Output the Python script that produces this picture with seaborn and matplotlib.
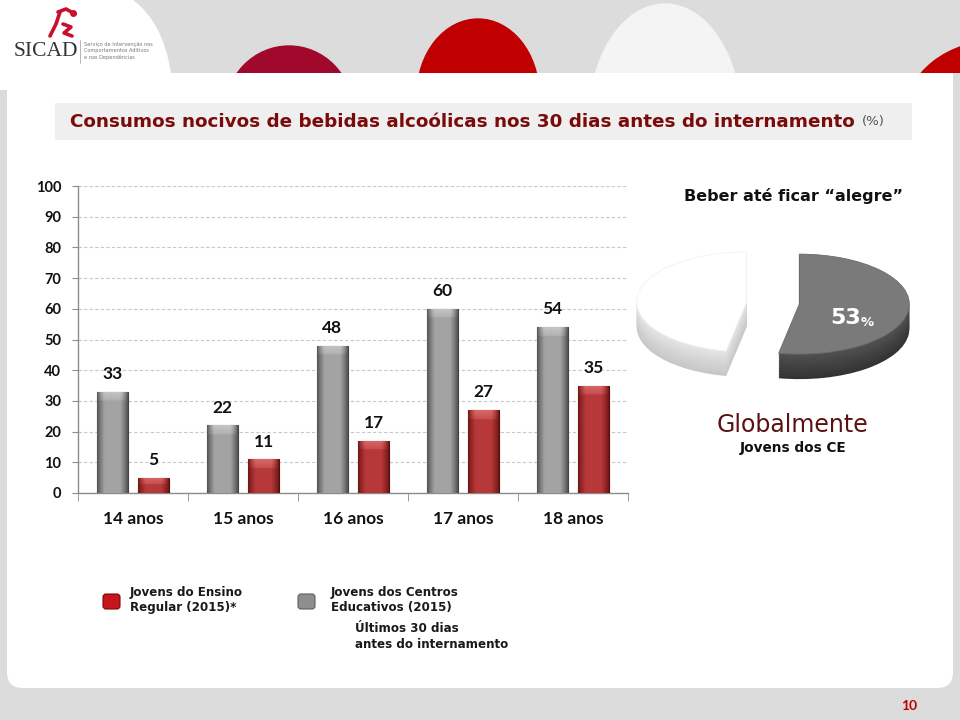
import numpy as np
import pandas as pd
import matplotlib
import matplotlib.pyplot as plt
import seaborn as sns
from matplotlib.patches import Rectangle, Ellipse, FancyBboxPatch, PathPatch
from matplotlib.path import Path
matplotlib.use("Agg")

# data
idades = ["14 anos", "15 anos", "16 anos", "17 anos", "18 anos"]
centros = [33, 22, 48, 60, 54]     # Jovens dos Centros Educativos (2015)
ensino = [5, 11, 17, 27, 35]       # Jovens do Ensino Regular (2015)*
yticks = list(range(0, 101, 10))
pie_vals = [53, 47]

lab_centros = "Jovens dos Centros Educativos (2015)"
lab_ensino = "Jovens do Ensino Regular (2015)*"

df = pd.DataFrame({
    "idade": idades * 2,
    "valor": centros + ensino,
    "grupo": [lab_centros] * 5 + [lab_ensino] * 5,
})

sns.set_style("white")
plt.rcParams['font.family'] = ['DejaVu Sans']

fig = plt.figure(figsize=(9.6, 7.2), dpi=100)
fig.patch.set_facecolor('#dcdcdc')

#####################################
# SLIDE BACKGROUND (pixel coordinates)
#####################################
bg = fig.add_axes([0, 0, 1, 1], zorder=0)
bg.set_xlim(0, 960)
bg.set_ylim(720, 0)
bg.axis('off')

# domes in the top band, clipped to the band
band = Rectangle((0, 0), 960, 73, transform=bg.transData)
for centre, w, h, c in [((289, 112), 128, 132, '#a0082c'),
                        ((478, 95), 122, 152, '#c00000'),
                        ((665, 120), 152, 232, '#f4f4f4'),
                        ((1000, 115), 190, 150, '#c00000')]:
    e = Ellipse(centre, w, h, color=c, zorder=1)
    bg.add_patch(e)
    e.set_clip_path(band)

# white logo area with curved edge
verts = [(0, 0), (133, 0), (163, 22), (171, 73), (171, 90), (0, 90),
         (0, 0)]
codes = [Path.MOVETO, Path.LINETO, Path.CURVE3, Path.CURVE3,
         Path.LINETO, Path.LINETO, Path.CLOSEPOLY]
bg.add_patch(PathPatch(Path(verts, codes), facecolor='white',
                       edgecolor='none', zorder=2))

# white content panel
bg.add_patch(FancyBboxPatch((7, 73), 946, 615,
                            boxstyle="round,pad=0,rounding_size=16",
                            facecolor='white', edgecolor='none', zorder=2))
bg.add_patch(Rectangle((7, 73), 946, 100, facecolor='white',
                       edgecolor='none', zorder=2))

# title band
bg.add_patch(Rectangle((55, 103), 857, 37, facecolor='#efefef',
                       edgecolor='none', zorder=3))
title = bg.text(70, 122, "Consumos nocivos de bebidas alcoólicas nos 30 dias "
                "antes do internamento", ha='left', va='center',
                color='#7b0a0a', fontsize=13.2, fontweight='bold', zorder=4)
bg.annotate("(%)", xy=(1, 0.5), xycoords=title, xytext=(5, 0),
            textcoords='offset points', ha='left', va='center',
            color='#555555', fontsize=9.5, zorder=4)

# logo
for xs, ys in [([50, 56, 60], [36, 24, 12]),
               ([58, 66, 75], [12, 9, 14]),
               ([63, 71, 64, 72], [24, 27, 33, 36])]:
    bg.plot(xs, ys, color='#c8102e', lw=2.6, solid_capstyle='round',
            zorder=4)
bg.plot([73], [13], 'o', color='#c8102e', ms=4, zorder=4)
bg.text(14, 51, "SICAD", family='Liberation Serif', fontsize=15.5,
        color='#333333', ha='left', va='center', zorder=4)
bg.plot([80, 80], [40, 63], color='#aaaaaa', lw=0.6, zorder=4)
bg.text(84, 51, "Serviço de Intervenção nos\nComportamentos Aditivos\n"
        "e nas Dependências", fontsize=3.6, color='#777777',
        ha='left', va='center', linespacing=1.2, zorder=4)

# page number
bg.text(909, 706, "10", color='#c00000', fontsize=10, fontweight='bold',
        ha='center', va='center', family='Lato', zorder=4)

# legend
bg.add_patch(FancyBboxPatch((103, 594), 17, 15,
                            boxstyle="round,pad=0,rounding_size=3",
                            facecolor='#c8141c', edgecolor='#7a0a0a',
                            lw=0.8, zorder=4))
bg.add_patch(FancyBboxPatch((298, 594), 17, 15,
                            boxstyle="round,pad=0,rounding_size=3",
                            facecolor='#8e8e8e', edgecolor='#5e5e5e',
                            lw=0.8, zorder=4))
leg_kw = dict(fontsize=8.6, fontweight='bold', color='#1a1a1a', ha='left',
              va='top', linespacing=1.25, zorder=4)
bg.text(130, 586, "Jovens do Ensino\nRegular (2015)*", **leg_kw)
bg.text(331, 586, "Jovens dos Centros\nEducativos (2015)", **leg_kw)
bg.text(355, 622, "Últimos 30 dias\nantes do internamento", **leg_kw)

# pie captions
bg.text(793, 196, "Beber até ficar “alegre”", ha='center', va='center',
        fontsize=11.5, fontweight='bold', color='#111111', zorder=4)
bg.text(793, 425, "Globalmente", ha='center', va='center', fontsize=17,
        color='#5c1212', zorder=4)
bg.text(793, 448, "Jovens dos CE", ha='center', va='center', fontsize=9.8,
        fontweight='bold', color='#111111', zorder=4)

#####################################
# BAR CHART
#####################################
ax = fig.add_axes([78 / 960, 1 - 493 / 720, 550 / 960, 307 / 720], zorder=5)
ax.set_facecolor('none')

sns.barplot(data=df, x="idade", y="valor", hue="grupo",
            hue_order=[lab_centros, lab_ensino],
            palette={lab_centros: '#8a8a8a', lab_ensino: '#a83232'},
            width=0.75, gap=0.25, legend=False, ax=ax, zorder=3)

shades = [
    # dark edge, light centre, bevel highlight, outline
    (np.array([0.30, 0.30, 0.30]), np.array([0.64, 0.64, 0.64]),
     np.array([0.82, 0.82, 0.82]), '#444444'),
    (np.array([0.42, 0.07, 0.07]), np.array([0.72, 0.22, 0.22]),
     np.array([0.90, 0.48, 0.48]), '#560c0c'),
]

for cont, (dark, light, hi, edge) in zip(ax.containers, shades):
    for patch in cont.patches:
        x0 = patch.get_x()
        w = patch.get_width()
        h = patch.get_height()
        patch.set_edgecolor(edge)
        patch.set_linewidth(0.8)
        nx, ny = 48, 240
        t = (np.arange(nx) + 0.5) / nx
        prof = np.clip(np.minimum(t, 1 - t) / 0.25, 0, 1) ** 0.8
        col = dark + (light - dark) * prof[:, None]
        img = np.tile(col[None, :, :], (ny, 1, 1))
        bev = min(3.0 / h, 0.45)
        rows = (np.arange(ny) + 0.5) / ny
        for i, r in enumerate(rows):
            if r < bev:
                k = np.clip(np.minimum(t, 1 - t) / 0.25, 0, 1)
                wgt = 0.75 * k * (1 - r / bev * 0.6)
                img[i] = img[i] * (1 - wgt[:, None]) + hi * wgt[:, None]
        im = ax.imshow(img, extent=(x0, x0 + w, 0, h), aspect='auto',
                       interpolation='bilinear', zorder=3.5, origin='upper')
        im.set_clip_path(patch)
    ax.bar_label(cont, padding=7, fontsize=12.5, fontweight='bold',
                 family='Lato', color='#111111', zorder=6)

ax.set_xlim(-0.5, 4.5)
ax.set_ylim(0, 100)
ax.set_yticks(yticks)
ax.set_xlabel('')
ax.set_ylabel('')
ax.yaxis.grid(True, linestyle=(0, (3, 2)), color='#c8c8c8', lw=0.8)
ax.set_axisbelow(True)

for side in ['top', 'right']:
    ax.spines[side].set_visible(False)
for side in ['left', 'bottom']:
    ax.spines[side].set_color('#8c8c8c')
    ax.spines[side].set_linewidth(1.0)

ax.set_xticks(np.arange(-0.5, 5, 1.0), minor=True)
ax.tick_params(axis='x', which='major', length=0, pad=13)
ax.tick_params(axis='x', which='minor', length=6, color='#8c8c8c',
               direction='out', bottom=True)
ax.tick_params(axis='y', length=4, color='#8c8c8c', direction='out',
               left=True, pad=8)
for lab in ax.get_xticklabels():
    lab.set_family('Lato')
    lab.set_fontweight('bold')
    lab.set_fontsize(12.5)
    lab.set_color('#111111')
for lab in ax.get_yticklabels():
    lab.set_family('Lato')
    lab.set_fontweight('bold')
    lab.set_fontsize(10.5)
    lab.set_color('#111111')

#####################################
# 3D-LOOKING PIE
#####################################
pax = fig.add_axes([597 / 960, 1 - 393 / 720, 352 / 960, 160 / 720],
                   zorder=6)
pax.set_facecolor('none')
depth = 0.5
explode = [0.24, 0.24]
layers = np.linspace(depth, 0.0, 16, endpoint=False)
for j, d in enumerate(layers):
    f = j / len(layers)
    side_g = (0.20 + 0.12 * f,) * 3
    side_w = (0.78 + 0.12 * f,) * 3
    pax.pie(pie_vals, colors=[side_g, side_w], startangle=90,
            counterclock=False, explode=explode, center=(0, -d),
            wedgeprops=dict(linewidth=0))
wedges, _ = pax.pie(pie_vals, colors=['#7a7a7a', '#ffffff'], startangle=90,
                    counterclock=False, explode=explode, center=(0, 0),
                    wedgeprops=dict(linewidth=0.6))
wedges[0].set_edgecolor('#6a6a6a')
wedges[1].set_edgecolor('#f2f2f2')
pax.set_aspect('auto')
pax.set_xlim(-1.6, 1.6)
pax.set_ylim(-1.8, 1.4)
pax.axis('off')

pax.text(0.80, -0.30, f"{pie_vals[0]}", color='white', fontsize=16,
         fontweight='bold', ha='right', va='center', family='DejaVu Sans')
pax.text(0.80, -0.38, "%", color='white', fontsize=9.5,
         fontweight='bold', ha='left', va='center', family='DejaVu Sans')

plt.savefig('out.png', dpi=100, facecolor=fig.get_facecolor())
